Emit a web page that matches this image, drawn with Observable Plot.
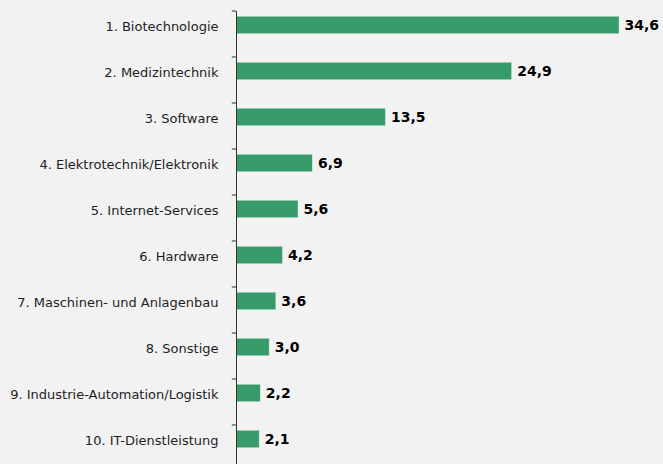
<!DOCTYPE html>
<html>
<head>
<meta charset="utf-8">
<script src="https://cdn.jsdelivr.net/npm/d3@7"></script>
<script src="https://cdn.jsdelivr.net/npm/@observablehq/plot@0.6"></script>
<style>
  html, body { margin: 0; padding: 0; background: #f2f2f2; }
  #chart svg { display: block; background: #f2f2f2; }
</style>
</head>
<body>
<div id="chart"></div>
<script>
const categories = [
  "1. Biotechnologie",
  "2. Medizintechnik",
  "3. Software",
  "4. Elektrotechnik/Elektronik",
  "5. Internet-Services",
  "6. Hardware",
  "7. Maschinen- und Anlagenbau",
  "8. Sonstige",
  "9. Industrie-Automation/Logistik",
  "10. IT-Dienstleistung"
];
const values = [34.6, 24.9, 13.5, 6.9, 5.6, 4.2, 3.6, 3.0, 2.2, 2.1];

const data = categories.map((c, i) => ({category: c, value: values[i]}));
const fmt = v => v.toFixed(1).replace(".", ",");

const chart = Plot.plot({
  width: 663,
  height: 464,
  marginLeft: 236,
  marginRight: 6.3,
  marginTop: 2,
  marginBottom: 2,
  style: {background: "#f2f2f2", fontFamily: "DejaVu Sans"},
  x: {domain: [0, 38], axis: null},
  y: {domain: categories, padding: 0, axis: null},
  marks: [
    Plot.barX(data, {
      x: "value", y: "category",
      fill: "#369b68",
      stroke: "#ffffff", strokeOpacity: 0.5, strokeWidth: 0.8,
      insetTop: 14.25, insetBottom: 14.25
    }),
    Plot.ruleX([0], {stroke: "#333", strokeWidth: 1, insetTop: 9, insetBottom: -2}),
    Plot.ruleY(categories, {y: d => d, x1: -0.38, x2: 0, stroke: "#333", strokeWidth: 1, dy: -14.5}),
    Plot.text(data, {
      x: 0, y: "category", text: "category",
      textAnchor: "end", dx: -18, dy: 1,
      fontSize: 13, fill: "#1e1e1e", fontFamily: "DejaVu Sans"
    }),
    Plot.text(data, {
      x: "value", y: "category", text: d => fmt(d.value),
      textAnchor: "start", dx: 5, dy: 0,
      fontSize: 14, fontWeight: "bold", fill: "#000", fontFamily: "DejaVu Sans"
    })
  ]
});
document.getElementById("chart").appendChild(chart);
</script>
</body>
</html>
